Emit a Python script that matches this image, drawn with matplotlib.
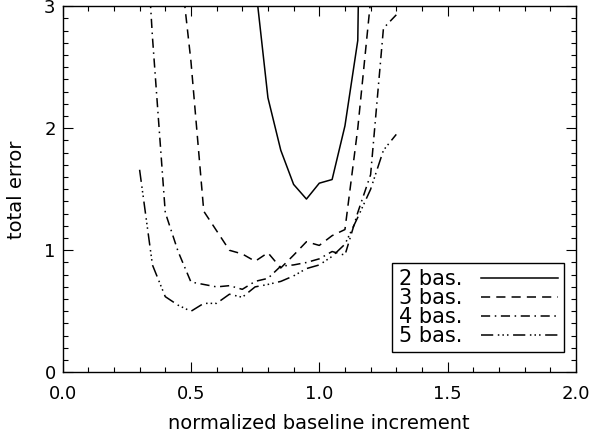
import numpy as np
import matplotlib
matplotlib.use('Agg')
import matplotlib.pyplot as plt
from matplotlib.ticker import MultipleLocator

###### dados ######
x2 = [0.75, 0.80, 0.85, 0.90, 0.95, 1.00, 1.05, 1.10, 1.15, 1.20]
y2 = [3.20, 2.25, 1.82, 1.54, 1.42, 1.55, 1.58, 2.02, 2.72, 10.0]

x3 = [0.45, 0.50, 0.55, 0.60, 0.65, 0.70, 0.75, 0.80, 0.85, 0.90,
      0.95, 1.00, 1.05, 1.10, 1.15, 1.20, 1.25]
y3 = [3.50, 2.55, 1.32, 1.16, 1.00, 0.97, 0.91, 0.98, 0.855, 0.96,
      1.07, 1.04, 1.12, 1.17, 2.00, 3.05, 5.00]

x4 = [0.30, 0.35, 0.40, 0.45, 0.50, 0.55, 0.60, 0.65, 0.70, 0.75, 0.80,
      0.85, 0.90, 0.95, 1.00, 1.05, 1.10, 1.15, 1.20, 1.25, 1.30]
y4 = [4.50, 2.75, 1.31, 0.99, 0.74, 0.72, 0.70, 0.71, 0.68, 0.745, 0.77,
      0.87, 0.88, 0.90, 0.93, 0.99, 0.96, 1.31, 1.62, 2.82, 2.93]

x5 = [0.30, 0.35, 0.40, 0.45, 0.50, 0.55, 0.60, 0.65, 0.70, 0.75, 0.80,
      0.85, 0.90, 0.95, 1.00, 1.05, 1.10, 1.15, 1.20, 1.25, 1.30]
y5 = [1.66, 0.88, 0.62, 0.55, 0.50, 0.565, 0.565, 0.64, 0.615, 0.70, 0.72,
      0.745, 0.79, 0.85, 0.88, 0.95, 1.05, 1.27, 1.50, 1.82, 1.95]

rotulos = ['2 bas.', '3 bas.', '4 bas.', '5 bas.']

###### estilos ######
estilos = ['-', (0, (6, 4)), (0, (6, 3, 1, 3)), (0, (8, 3, 1, 2, 1, 2, 1, 3))]

fig = plt.figure(figsize=(5.95, 4.34), dpi=100)
ax = fig.add_axes([0.1052, 0.1422, 0.8628, 0.8433])

series = [(x2, y2), (x3, y3), (x4, y4), (x5, y5)]
for (xs, ys), ls, lab in zip(series, estilos, rotulos):
    ax.plot(xs, ys, color='black', linestyle=ls, linewidth=1.1, label=lab)

ax.set_xlim(0, 2)
ax.set_ylim(0, 3)
ax.xaxis.set_major_locator(MultipleLocator(0.5))
ax.xaxis.set_minor_locator(MultipleLocator(0.1))
ax.yaxis.set_major_locator(MultipleLocator(1))
ax.yaxis.set_minor_locator(MultipleLocator(0.1))
ax.xaxis.set_major_formatter(matplotlib.ticker.FormatStrFormatter('%.1f'))
ax.tick_params(which='both', direction='in', top=True, right=True, width=0.8)
ax.tick_params(which='major', length=7, labelsize=13)
ax.tick_params(which='minor', length=3.5)
ax.tick_params(axis='x', which='major', pad=9)
ax.tick_params(axis='y', which='major', pad=5)
for s in ax.spines.values():
    s.set_linewidth(1.0)

ax.set_xlabel('normalized baseline increment', fontsize=14, labelpad=8)
ax.set_ylabel('total error', fontsize=14, labelpad=13)

leg = ax.legend(loc='lower right', bbox_to_anchor=(0.977, 0.055),
                borderaxespad=0, markerfirst=False, fancybox=False,
                edgecolor='black', framealpha=1, fontsize=15,
                handlelength=3.7, handletextpad=0.9, labelspacing=-0.05,
                borderpad=0.3)
leg.get_frame().set_linewidth(1.0)

fig.savefig('out.png', dpi=100)
